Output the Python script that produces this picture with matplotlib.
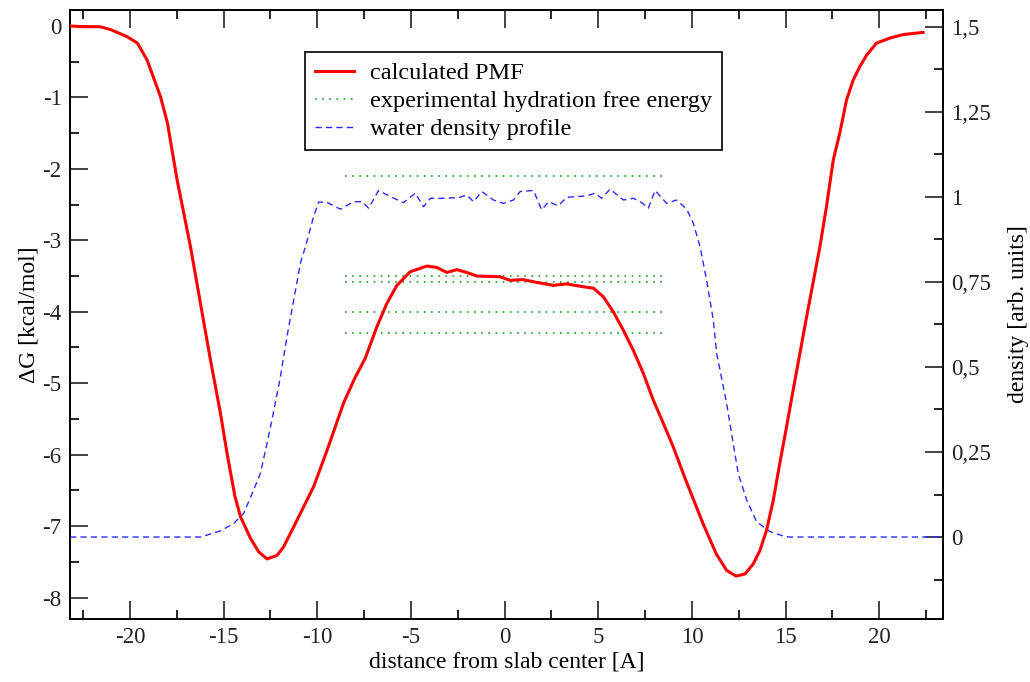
import matplotlib
matplotlib.use("Agg")
import matplotlib.pyplot as plt
from matplotlib.ticker import MultipleLocator, FuncFormatter

plt.rcParams['font.family'] = ['Liberation Serif', 'DejaVu Serif']
plt.rcParams['axes.unicode_minus'] = False

# ---- data ----
pmf_x = [-23.2, -22.5, -21.6, -21.04, -20.15, -19.6, -19.08, -18.37, -18.0, -17.48,
         -16.77, -16.24, -15.7, -15.17, -14.82, -14.4, -14.1, -13.57, -13.13, -12.68, -12.15,
         -11.8, -11.26, -10.2, -9.48, -8.6, -8.0, -7.44, -6.82, -6.28, -5.75, -5.04,
         -4.15, -3.62, -3.08, -2.55, -2.02, -1.48, -0.24, 0.29, 1.0, 1.72,
         2.6, 3.3, 4.2, 4.74, 5.27, 5.8, 6.34, 6.87, 7.4, 7.94,
         8.47, 9.0, 9.63, 10.6, 11.3, 11.85, 12.35, 12.83, 13.27, 13.63,
         13.98, 14.34, 14.69, 15.05, 15.4, 16.1, 16.83, 17.18, 17.54, 17.89, 18.25,
         18.6, 18.96, 19.32, 19.85, 20.56, 21.27, 22.34]
pmf_y = [0.0, -0.01, -0.01, -0.05, -0.15, -0.24, -0.48, -0.99, -1.36, -2.16,
         -3.09, -3.88, -4.68, -5.42, -5.98, -6.58, -6.87, -7.17, -7.36, -7.46, -7.41,
         -7.29, -7.01, -6.45, -5.94, -5.28, -4.93, -4.65, -4.21, -3.88, -3.63, -3.44,
         -3.36, -3.38, -3.45, -3.41, -3.45, -3.50, -3.51, -3.56, -3.55, -3.59,
         -3.63, -3.61, -3.65, -3.67, -3.79, -4.0, -4.26, -4.54, -4.86, -5.24,
         -5.56, -5.89, -6.33, -6.97, -7.39, -7.62, -7.70, -7.67, -7.53, -7.34,
         -7.06, -6.64, -6.12, -5.61, -5.1, -4.1, -3.09, -2.53, -1.88, -1.50, -1.04,
         -0.76, -0.57, -0.41, -0.24, -0.17, -0.12, -0.09]

dens_x = [-23.2, -16.2, -15.88, -15.17, -14.46, -13.93, -13.4, -13.04, -12.68, -12.4,
          -11.97, -11.62, -11.26, -10.9, -10.55, -10.2, -9.93, -9.48, -8.77, -8.06,
          -7.6, -7.26, -6.73, -6.1, -5.4, -4.77, -4.33, -3.97, -3.08, -2.37,
          -2.02, -1.66, -1.22, -0.6, -0.06, 0.47, 0.83, 1.54, 1.98, 2.34,
          2.87, 3.32, 4.38, 4.83, 5.18, 5.63, 6.34, 6.87, 7.32, 7.67,
          8.03, 8.65, 9.18, 9.72, 10.07, 10.43, 10.78, 11.14, 11.32, 11.85,
          12.2, 12.47, 12.92, 13.45, 14.16, 14.87, 15.2, 23.4]
dens_y = [0.0, 0.0, 0.006, 0.018, 0.04, 0.07, 0.138, 0.187, 0.276, 0.35,
          0.471, 0.589, 0.697, 0.805, 0.87, 0.942, 0.985, 0.984, 0.964, 0.986,
          0.986, 0.967, 1.019, 1.001, 0.983, 1.011, 0.971, 0.996, 0.996, 0.999,
          1.006, 0.986, 1.016, 0.991, 0.981, 0.991, 1.016, 1.019, 0.962, 0.986,
          0.974, 0.999, 1.003, 1.011, 0.996, 1.023, 0.991, 0.996, 0.983, 0.967,
          1.019, 0.981, 0.991, 0.964, 0.923, 0.854, 0.756, 0.638, 0.54, 0.393,
          0.276, 0.187, 0.109, 0.045, 0.016, 0.003, 0.0, 0.0]

exp_levels = [-2.1, -3.5, -3.58, -4.0, -4.3]
exp_x_range = [-8.5, 8.4]

labels = ["calculated PMF", "experimental hydration free energy", "water density profile"]

# ---- figure ----
fig = plt.figure(figsize=(10.3, 6.82), dpi=100)
ax = fig.add_axes([0.068, 0.0924, 0.8475, 0.8936])
ax2 = ax.twinx()

l1, = ax.plot(pmf_x, pmf_y, color='#ff0000', lw=2.2, zorder=3, label=labels[0])
l2 = None
for lev in exp_levels:
    l2, = ax.plot(exp_x_range, [lev, lev], color='#1ea01e', lw=1.2,
                  linestyle=(0, (1, 3.3)), zorder=2, label=labels[1])
l3, = ax2.plot(dens_x, dens_y, color='#2a2aff', lw=1.0, linestyle=(0, (4.5, 3)),
               label=labels[2])

ax.set_xlim(-23.2, 23.4)
ax.set_ylim(-8.3, 0.23)
ax2.set_ylim(-0.241, 1.551)

ax.xaxis.set_major_locator(MultipleLocator(5))
ax.xaxis.set_minor_locator(MultipleLocator(2.5))
ax.yaxis.set_major_locator(MultipleLocator(1))
ax.yaxis.set_minor_locator(MultipleLocator(0.5))
ax2.yaxis.set_major_locator(MultipleLocator(0.25))
ax2.yaxis.set_minor_locator(MultipleLocator(0.125))

def comma_fmt(v, pos):
    return ('%g' % round(v, 3)).replace('.', ',')
ax2.yaxis.set_major_formatter(FuncFormatter(comma_fmt))

for a in (ax, ax2):
    for sp in a.spines.values():
        sp.set_linewidth(1.3)
ax.tick_params(axis='x', which='both', direction='in', top=True, bottom=True)
ax.tick_params(axis='y', which='both', direction='in', left=True, right=False)
ax2.tick_params(axis='y', which='both', direction='in', right=True, left=False)
for a in (ax, ax2):
    a.tick_params(which='major', length=13, width=1.2, labelsize=16.5, pad=6, colors='#222222')
    a.tick_params(which='minor', length=6.5, width=1.2)

ax.set_xlabel("distance from slab center [A]", fontsize=17, labelpad=2)
ax.set_ylabel("ΔG [kcal/mol]", fontsize=17, labelpad=2)
ax2.set_ylabel("density [arb. units]", fontsize=17, labelpad=12)

leg = ax.legend([l1, l2, l3], labels, loc='upper left', bbox_to_anchor=(0.269, 0.930),
                fontsize=17.5, frameon=True, fancybox=False, framealpha=1,
                edgecolor='black', handlelength=1.6, handletextpad=0.65,
                labelspacing=0.24, borderpad=0.42, borderaxespad=0)
leg.get_frame().set_linewidth(1.2)
ax.set_zorder(ax2.get_zorder() + 1)
ax.patch.set_visible(False)

fig.savefig("out.png", dpi=100)
